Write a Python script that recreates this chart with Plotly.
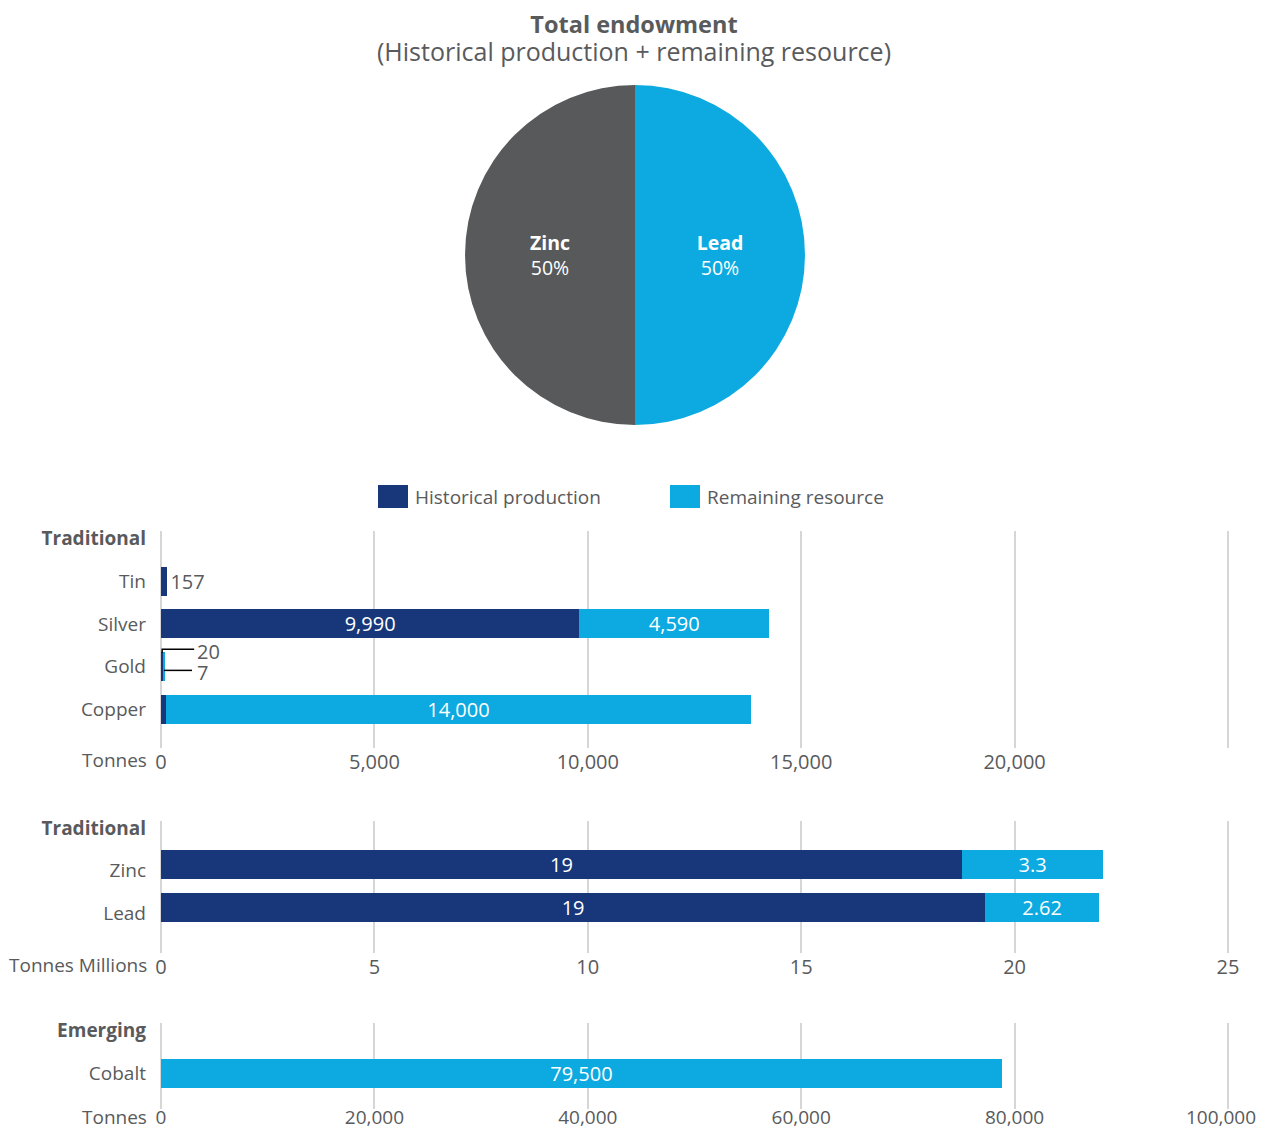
import plotly.graph_objects as go

# the page has an 8px body margin; the figure is sized to fit inside the window exactly
PAGE_OFF = 8
FW, FH = 1250, 1122

# ---------------- data ----------------
pie_labels = ["Lead", "Zinc"]
pie_values = [50, 50]

series_names = ["Historical production", "Remaining resource"]

cats_a = ["<b>Traditional</b>", "Tin", "Silver", "Gold", "Copper"]
hist_a = [None, 150, 9800, 55, 110]
rem_a = [None, None, 4450, 30, 13720]
hist_a_text = ["", "157", "9,990", "", ""]
rem_a_text = ["", "", "4,590", "", "14,000"]
gold_labels = ["20", "7"]

cats_b = ["<b>Traditional</b>", "Zinc", "Lead"]
hist_b = [None, 18.77, 19.31]
rem_b = [None, 3.30, 2.67]
hist_b_text = ["", "19", "19"]
rem_b_text = ["", "3.3", "2.62"]

cats_c = ["<b>Emerging</b>", "Cobalt"]
rem_c = [None, 78800]
rem_c_text = ["", "79,500"]

ticks_a = [0, 5000, 10000, 15000, 20000, 25000]
ticktext_a = ["0", "5,000", "10,000", "15,000", "20,000", ""]
ticks_b = [0, 5, 10, 15, 20, 25]
ticktext_b = ["0", "5", "10", "15", "20", "25"]
ticks_c = [0, 20000, 40000, 60000, 80000, 100000]
ticktext_c = ["0", "20,000", "40,000", "60,000", "80,000", "100,000"]
unit_labels = ["Tonnes", "Tonnes Millions", "Tonnes"]

title_main = "Total endowment"
title_sub = "(Historical production + remaining resource)"

# ---------------- style ----------------
FONT = "Open Sans"
TXT = "#595a5c"
DARK = "#17377a"
LIGHT = "#0caae0"
GREY = "#58595b"
GRID = "#d6d6d6"
LAB = 19     # category / legend text
NUM = 20     # numbers


def px_x(p):
    return (p - PAGE_OFF) / FW


def px_y(p):
    return 1 - (p - PAGE_OFF) / FH


fig = go.Figure()

# pie
fig.add_trace(go.Pie(
    labels=pie_labels, values=pie_values, sort=False, direction="clockwise",
    rotation=0, marker=dict(colors=[LIGHT, GREY], line=dict(width=0)),
    texttemplate="<b>%{label}</b><br>%{percent}", textposition="inside",
    insidetextorientation="horizontal",
    textfont=dict(family=FONT, size=19.5, color="white"),
    domain=dict(x=[px_x(465), px_x(805)], y=[px_y(425), px_y(85)]),
    showlegend=False, hoverinfo="label+percent",
))

BW = 0.68


def add_bars(cats, hist, rem, htext, rtext, xa, ya, hpos=None, offset=None):
    kw = dict(width=BW)
    if offset is not None:
        kw["offset"] = offset
    if hist is not None:
        fig.add_trace(go.Bar(
            y=cats, x=hist, orientation="h", name=series_names[0],
            marker=dict(color=DARK, line=dict(width=0)),
            text=htext, textposition=hpos or "inside", insidetextanchor="middle",
            textangle=0, constraintext="none", cliponaxis=False,
            insidetextfont=dict(family=FONT, size=NUM, color="white"),
            outsidetextfont=dict(family=FONT, size=NUM, color=TXT),
            xaxis=xa, yaxis=ya, showlegend=False, **kw))
    fig.add_trace(go.Bar(
        y=cats, x=rem, orientation="h", name=series_names[1],
        marker=dict(color=LIGHT, line=dict(width=0)),
        text=rtext, textposition="inside", insidetextanchor="middle",
        textangle=0, constraintext="none", cliponaxis=False,
        insidetextfont=dict(family=FONT, size=NUM, color="white"),
        xaxis=xa, yaxis=ya, showlegend=False, **kw))


add_bars(cats_a, hist_a, rem_a, hist_a_text, rem_a_text, "x", "y",
         hpos=["none", "outside", "inside", "none", "none"])
add_bars(cats_b, hist_b, rem_b, hist_b_text, rem_b_text, "x2", "y2",
         offset=-BW / 2 - 0.14)
add_bars(cats_c, None, rem_c, None, rem_c_text, "x3", "y3")

X0, X1, XEXT = 161, 1228, 2   # axis 0 and last tick pixel; small extension so last gridline shows
XDOM = [px_x(X0), px_x(X1 + XEXT)]
PXU = 42.8                     # pixels per category step
doms = [(531, 748), (820.7, 952.7), (1023, 1109)]
cat_lists = [cats_a, cats_b, cats_c]
# the last label of the bottom axis is drawn right-aligned at the figure edge so it is not clipped
tick_sets = [(ticks_a, ticktext_a), (ticks_b, ticktext_b),
             (ticks_c, ticktext_c[:-1] + [""])]
label_standoff = [0, 0, -5]
label_size = [NUM, NUM, 19]
unit_yshift = [-12, -12, -8]

layout = dict(
    width=FW, height=FH, margin=dict(l=0, r=0, t=0, b=0),
    paper_bgcolor="white", plot_bgcolor="white",
    barmode="stack", font=dict(family=FONT, size=LAB, color=TXT),
    showlegend=False,
)
for i in range(3):
    sx = "" if i == 0 else str(i + 1)
    top, bot = doms[i]
    tv, tt = tick_sets[i]
    xmax = tv[-1] * (X1 + XEXT - X0) / (X1 - X0)
    ytop = -0.17
    ybot = ytop + (bot - top) / PXU
    layout["xaxis" + sx] = dict(
        domain=XDOM, anchor="y" + sx, range=[tv[0], xmax], tickmode="array",
        tickvals=tv, ticktext=tt, showgrid=True, gridcolor=GRID, gridwidth=1.5,
        zeroline=True, zerolinecolor=GRID, zerolinewidth=1.5, showline=False,
        ticks="", tickfont=dict(family=FONT, size=label_size[i], color=TXT),
        ticklabelstandoff=label_standoff[i],
        automargin=False, fixedrange=True,
    )
    layout["yaxis" + sx] = dict(
        domain=[px_y(bot), px_y(top)], anchor="x" + sx, type="category",
        categoryorder="array", categoryarray=cat_lists[i], range=[ybot, ytop],
        showgrid=False, zeroline=False, showline=False, ticks="",
        ticklabelstandoff=14,
        tickfont=dict(family=FONT, size=LAB, color=TXT), automargin=False,
        fixedrange=True,
    )

annotations = []
shapes = []

# title (one two-line text; line spacing from the base size)
annotations.append(dict(
    x=px_x(634), y=px_y(38), xref="paper", yref="paper", xanchor="center",
    yanchor="middle", showarrow=False, align="center",
    text=("<span style='font-size:23.5px'><b>%s</b></span><br>"
          "<span style='font-size:25px'>%s</span>") % (title_main, title_sub),
    font=dict(family=FONT, size=21.5, color=TXT)))

# unit labels next to x tick labels
for i, lab in enumerate(unit_labels):
    sx = "" if i == 0 else str(i + 1)
    annotations.append(dict(
        x=0, y=0, xref="x" + sx + " domain", yref="y" + sx + " domain",
        xanchor="right", yanchor="middle", xshift=-12, yshift=unit_yshift[i],
        showarrow=False, text=lab, font=dict(family=FONT, size=LAB, color=TXT)))

# last tick label of bottom axis
annotations.append(dict(
    x=1, y=0, xref="paper", yref="y3 domain", xanchor="right", yanchor="middle",
    yshift=unit_yshift[2], showarrow=False, text=ticktext_c[-1],
    font=dict(family=FONT, size=label_size[2], color=TXT)))

# gold leader lines & labels
g_idx = cats_a.index("Gold")
g_h = hist_a[g_idx]
g_r = rem_a[g_idx]
shapes.append(dict(
    type="path", xref="x", yref="y", xsizemode="pixel", ysizemode="pixel",
    xanchor=g_h / 2, yanchor=g_idx, path="M0,14 V17.5 H32",
    line=dict(color="black", width=1.5)))
shapes.append(dict(
    type="path", xref="x", yref="y", xsizemode="pixel", ysizemode="pixel",
    xanchor=g_h + g_r / 2, yanchor=g_idx, path="M0,-3.7 H28",
    line=dict(color="black", width=1.5)))
annotations.append(dict(
    x=g_h / 2, y=g_idx, xref="x", yref="y", xanchor="left", yanchor="middle",
    xshift=33, yshift=4.5, showarrow=False, align="left",
    text="<br>".join("<span style='font-size:%dpx'>%s</span>" % (NUM, t)
                     for t in gold_labels),
    font=dict(family=FONT, size=16, color=TXT)))

# legend (manual swatches)
leg = [(378, series_names[0], DARK), (670, series_names[1], LIGHT)]
for x0, name, col in leg:
    shapes.append(dict(type="rect", xref="paper", yref="paper",
                       x0=px_x(x0), x1=px_x(x0 + 30), y0=px_y(508), y1=px_y(485),
                       fillcolor=col, line=dict(width=0)))
    annotations.append(dict(
        x=px_x(x0 + 35), y=px_y(497), xref="paper", yref="paper",
        xanchor="left", yanchor="middle", showarrow=False, text=name,
        font=dict(family=FONT, size=LAB, color=TXT)))

layout["annotations"] = annotations
layout["shapes"] = shapes
fig.update_layout(**layout)

fig.write_html("out.html")
